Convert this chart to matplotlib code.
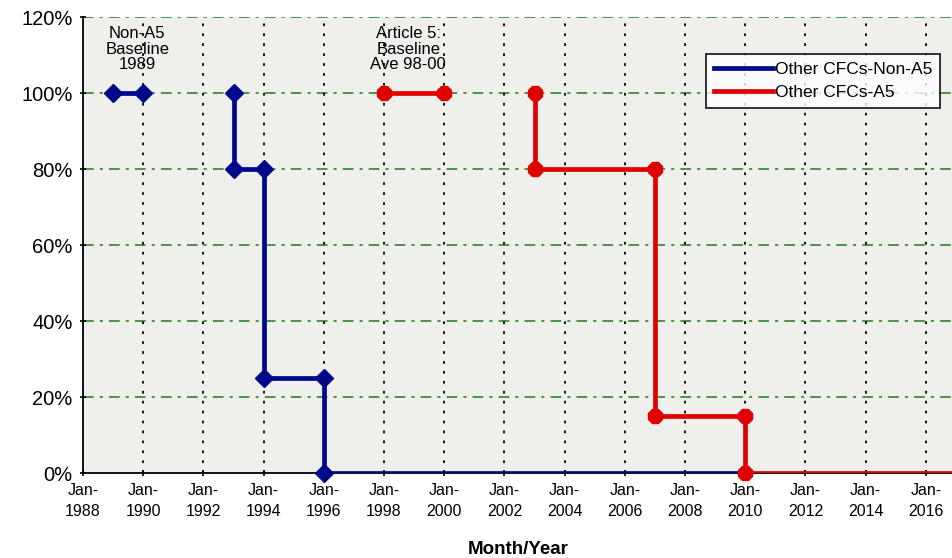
import numpy as np
import matplotlib.pyplot as plt

plt.rcParams['font.family'] = ['Liberation Sans', 'DejaVu Sans']

# step schedules (decimal year, % of baseline); NaN breaks the line
non_a5_years = [1989, 1990, np.nan, 1993, 1993, 1994, 1994, 1996, 1996, 2010]
non_a5_pct = [100, 100, np.nan, 100, 80, 80, 25, 25, 0, 0]
non_a5_marks = [1989, 1990, 1993, 1993, 1994, 1994, 1996, 1996]
non_a5_mark_pct = [100, 100, 100, 80, 80, 25, 25, 0]

a5_years = [1998, 2000, np.nan, 2003, 2003, 2007, 2007, 2010, 2010, 2017]
a5_pct = [100, 100, np.nan, 100, 80, 80, 15, 15, 0, 0]
a5_marks = [1998, 2000, 2003, 2003, 2007, 2007, 2010, 2010]
a5_mark_pct = [100, 100, 100, 80, 80, 15, 15, 0]

tick_years = list(range(1988, 2017, 2))
y_ticks = [0, 20, 40, 60, 80, 100, 120]

fig = plt.figure(figsize=(9.53, 5.58), dpi=100)
ax = fig.add_axes([0.0871, 0.1523, 0.9129, 0.8172])
ax.set_facecolor('#efefec')

blue = '#00088a'
red = '#e00000'

ax.plot(non_a5_years, non_a5_pct, color=blue, lw=3.4, zorder=3,
        label='Other CFCs-Non-A5')
ax.plot(non_a5_marks, non_a5_mark_pct, ls='none', marker='D', ms=9,
        color=blue, zorder=4, clip_on=False)
ax.plot(a5_years, a5_pct, color=red, lw=3.4, zorder=3,
        label='Other CFCs-A5')
ax.plot(a5_marks, a5_mark_pct, ls='none', marker='8', ms=11,
        color=red, zorder=4, clip_on=False)

ax.set_xlim(1988, 2016.9)
ax.set_ylim(0, 120)
ax.set_xticks(tick_years)
ax.set_xticklabels([f'Jan-\n{y}' for y in tick_years], fontsize=11.5,
                   linespacing=1.45)
ax.set_yticks(y_ticks)
ax.set_yticklabels([f'{v}%' for v in y_ticks], fontsize=14.5)

for v in y_ticks[1:]:
    ax.axhline(v, color='#1f7a1f', ls=(0, (7, 4, 2, 4)), lw=1.1, zorder=1)
for yr in tick_years[1:]:
    ax.axvline(yr, color='black', ls=(0, (1.5, 4)), lw=1.3, zorder=1)

for s in ['top', 'right']:
    ax.spines[s].set_visible(False)
ax.spines['left'].set_linewidth(1.3)
ax.spines['bottom'].set_linewidth(1.3)
ax.tick_params(length=5, width=1.2, direction='inout', pad=5)

ax.text(1989.8, 111.5, 'Non-A5\nBaseline\n1989', ha='center', va='center',
        fontsize=12, linespacing=1.05)
ax.text(1998.8, 111.5, 'Article 5:\nBaseline\nAve 98-00', ha='center',
        va='center', fontsize=12, linespacing=1.05)

ax.set_xlabel('Month/Year', fontsize=13.5, fontweight='bold', labelpad=16)

leg = ax.legend(loc='upper right', bbox_to_anchor=(0.985, 0.918),
                fontsize=12.5, frameon=True, fancybox=False,
                handlelength=3.4, handletextpad=0.1, borderpad=0.45,
                labelspacing=0.45, borderaxespad=0)
leg.get_frame().set_edgecolor('black')
leg.get_frame().set_linewidth(1.4)

fig.savefig('out.png', dpi=100)
